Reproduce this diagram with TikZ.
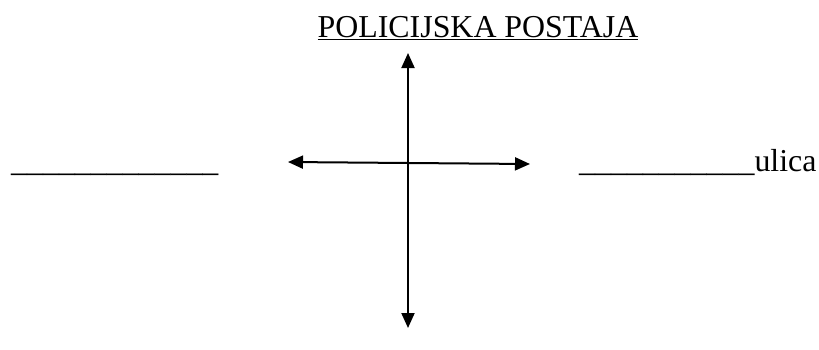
\documentclass[tikz,border=0pt]{standalone}
\usepackage{fontspec}
\setmainfont{Liberation Serif}
\usetikzlibrary{arrows.meta,positioning}

\begin{document}
\begin{tikzpicture}[x=1bp,y=-1bp,font=\rmfamily\fontsize{32}{38}\selectfont,
  road/.style={{Triangle[length=15bp,width=13bp]}-{Triangle[length=15bp,width=13bp]},line width=2bp}]
\useasboundingbox (0,0) rectangle (819,349);
\node[anchor=base] (title) at (478,37) {\underline{POLICIJSKA POSTAJA}};
\coordinate (up) at (408,53);
\coordinate (down) at (408,328);
\coordinate (west) at (288,162);
\coordinate (east) at (530,164);
\draw[road] (up) -- (down);
\draw[road] (west) -- (east);
\node[anchor=base west,inner sep=0pt] (left) at (11,171) {\_\_\_\_\_\_\_\_\_\_\_\_\_};
\node[anchor=base west,inner sep=0pt] (right) at (579,171) {\_\_\_\_\_\_\_\_\_\_\_ulica};
\end{tikzpicture}
\end{document}
